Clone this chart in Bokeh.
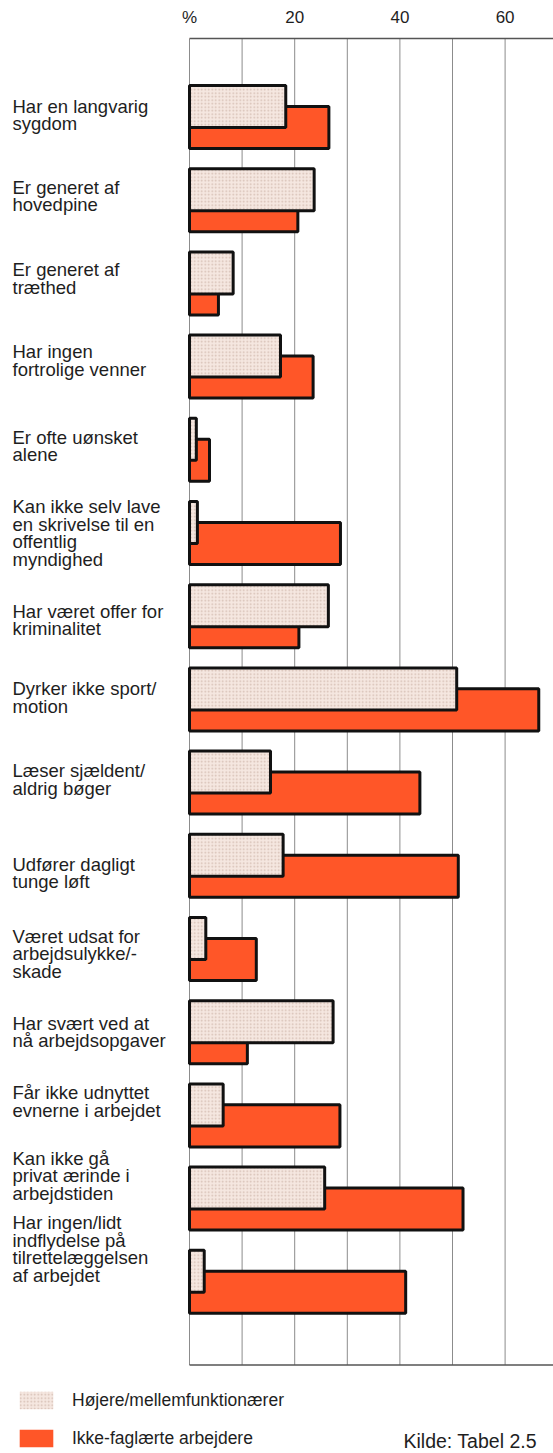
from bokeh.plotting import figure
from bokeh.models import ColumnDataSource, Range1d, FixedTicker, Legend, LegendItem
from bokeh.core.properties import value
from bokeh.embed import file_html
from bokeh.resources import INLINE

categories = [
    "Har en langvarig\nsygdom",
    "Er generet af\nhovedpine",
    "Er generet af\ntræthed",
    "Har ingen\nfortrolige venner",
    "Er ofte uønsket\nalene",
    "Kan ikke selv lave\nen skrivelse til en\noffentlig\nmyndighed",
    "Har været offer for\nkriminalitet",
    "Dyrker ikke sport/\nmotion",
    "Læser sjældent/\naldrig bøger",
    "Udfører dagligt\ntunge løft",
    "Været udsat for\narbejdsulykke/-\nskade",
    "Har svært ved at\nnå arbejdsopgaver",
    "Får ikke udnyttet\nevnerne i arbejdet",
    "Kan ikke gå\nprivat ærinde i\narbejdstiden",
    "Har ingen/lidt\nindflydelse på\ntilrettelæggelsen\naf arbejdet",
]
hojere = [18.3, 23.7, 8.3, 17.3, 1.3, 1.5, 26.4, 50.8, 15.4, 17.8, 3.1, 27.3, 6.4, 25.7, 2.8]
ikkefag = [26.5, 20.6, 5.5, 23.5, 3.8, 28.7, 20.8, 66.4, 43.8, 51.1, 12.7, 11.0, 28.6, 52.0, 41.1]
series_names = ["Højere/mellemfunktionærer", "Ikke-faglærte arbejdere"]
tick_values = [0, 20, 40, 60]
tick_labels = {0: "%", 20: "20", 40: "40", 60: "60"}
grid_values = [0, 10, 20, 30, 40, 50, 60, 70]
source_note = "Kilde: Tabel 2.5"

# layout constants (figure sits at the page's top-left corner)
W, H = 553, 1453
TOP = 38
PX_X = 5.26      # px per percent
PX_Y = 83.2      # px per category
LEFT_PX = 189    # frame x of value 0
x_start = -LEFT_PX / PX_X
x_end = x_start + W / PX_X
y_top = -0.9435
y_bottom = y_top + (H - TOP) / PX_Y
# small vertical nudges (px) of the label blocks, as laid out in the original
label_nudge_px = [-2, -4, -5, -6, -4, 0, 4, -2, -3, 7, 5, 0, -14, -23, -33]

n = len(categories)
idx = list(range(n))
OFF = 0.126
BH = 0.505

FONT = "Liberation Sans"
TXT = "#1e1e1e"
ORANGE = "#ff5628"
LIGHT = "#f5e7e0"

p = figure(width=W, height=H, output_backend="svg", toolbar_location=None,
           x_range=Range1d(x_start, x_end), y_range=Range1d(y_bottom, y_top),
           x_axis_location="above", min_border_top=TOP, min_border_left=0,
           min_border_right=0, min_border_bottom=0)
p.outline_line_color = None
p.background_fill_color = "white"
p.border_fill_color = "white"
p.xgrid.visible = False
p.ygrid.visible = False
p.yaxis.visible = False

ax = p.xaxis[0]
ax.ticker = FixedTicker(ticks=tick_values)
ax.major_label_overrides = tick_labels
ax.major_tick_line_color = None
ax.minor_tick_line_color = None
ax.axis_line_color = "#555555"
ax.axis_line_width = 1.5
ax.bounds = (0, 80)
ax.major_label_standoff = 6
ax.major_label_text_font = FONT
ax.major_label_text_font_size = "17px"
ax.major_label_text_color = TXT

# gridlines
p.segment(x0=grid_values, x1=grid_values, y0=[y_top] * len(grid_values),
          y1=[n] * len(grid_values), line_color="#8c8c8c", line_width=1)
p.segment(x0=[0], x1=[80], y0=[n], y1=[n], line_color="#555555", line_width=1.5)

src = ColumnDataSource(dict(
    y_l=[i - OFF for i in idx], y_o=[i + OFF for i in idx],
    hojere=hojere, ikkefag=ikkefag,
))
p.hbar(y="y_o", right="ikkefag", left=0, height=BH, source=src,
       fill_color=ORANGE, line_color="#111111", line_width=3)
p.hbar(y="y_l", right="hojere", left=0, height=BH, source=src,
       fill_color=LIGHT, hatch_pattern="dot", hatch_color="#b99a8c",
       hatch_scale=3.5, hatch_weight=1, hatch_alpha=0.55,
       line_color="#111111", line_width=3)

# category labels
lab = ColumnDataSource(dict(
    x=[x_start + 12 / PX_X] * n,
    y=[i + d / PX_Y for i, d in zip(idx, label_nudge_px)],
    t=categories))
p.text(x="x", y="y", text="t", source=lab, text_font=value(FONT),
       text_font_size="18.5px", text_color=TXT, text_align="left",
       text_baseline="middle", text_line_height=0.835)

# legend: swatches without outline (off-screen proxy bars)
dl = p.hbar(y=[-50], right=[1], left=[0], height=0.5, fill_color=LIGHT,
            hatch_pattern="dot", hatch_color="#b99a8c", hatch_scale=3.5,
            hatch_weight=1, hatch_alpha=0.55, line_color=None)
do = p.hbar(y=[-50], right=[1], left=[0], height=0.5, fill_color=ORANGE,
            line_color=None)
leg = Legend(items=[LegendItem(label=series_names[0], renderers=[dl]),
                    LegendItem(label=series_names[1], renderers=[do])],
             location=(15, 4), orientation="vertical", padding=0, margin=0,
             spacing=16, glyph_width=42, glyph_height=22, label_height=22,
             label_standoff=15, border_line_color=None,
             background_fill_alpha=0, label_text_font=FONT,
             label_text_font_size="17.5px", label_text_color=TXT)
p.add_layout(leg)

note = ColumnDataSource(dict(x=[(403 - LEFT_PX) / PX_X], y=[(1440 - TOP) / PX_Y + y_top], t=[source_note]))
p.text(x="x", y="y", text="t", source=note, text_font=value(FONT),
       text_font_size="19.5px", text_color=TXT, text_align="left",
       text_baseline="middle")

open("out.html", "w").write(file_html(p, INLINE))
